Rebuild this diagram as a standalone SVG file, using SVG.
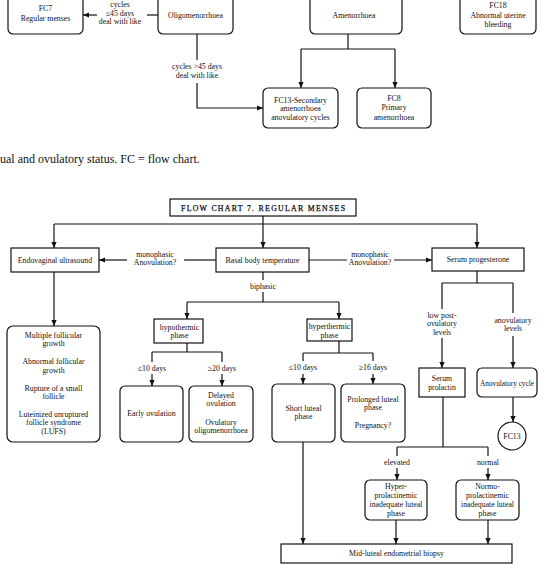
<svg xmlns="http://www.w3.org/2000/svg" width="553" height="564" viewBox="0 0 553 564">
<defs>
<style>
.b{fill:#fff;stroke:#111;stroke-width:1.2}
.t{font-family:"Liberation Serif","Times New Roman",serif;font-size:7.8px;fill:#111;text-anchor:middle}
.c{fill:none;stroke:#111;stroke-width:1.2}
.a{marker-end:url(#ah)}
</style>
<marker id="ah" markerUnits="userSpaceOnUse" markerWidth="6" markerHeight="6" viewBox="0 0 6 6" refX="6" refY="3" orient="auto">
<path d="M0,0.4 L6,3 L0,5.6 z" fill="#111"/>
</marker>
</defs>
<rect width="553" height="564" fill="#fff"/>

<g id="connectors">
<!-- top part -->
<path class="c" d="M158,15 H147"/>
<path class="c a" d="M97,15 H83"/>
<path class="c" d="M197,34 V60"/>
<path class="c a" d="M197,83 V108 H263"/>
<path class="c" d="M348,34 V49 M301,49 H395"/>
<path class="c a" d="M301,49 V88"/>
<path class="c a" d="M395,49 V88"/>
<!-- bottom part -->
<path class="c a" d="M263,216 V248"/>
<path class="c" d="M54,224 H477"/>
<path class="c a" d="M54,224 V248"/>
<path class="c a" d="M477,224 V248"/>
<path class="c" d="M216,260 H184"/>
<path class="c a" d="M127,260 H99"/>
<path class="c" d="M309,260 H347"/>
<path class="c a" d="M394,260 H432"/>
<path class="c" d="M263,272 V280 M263,292 V302 M187,302 H339"/>
<path class="c a" d="M187,302 V319"/>
<path class="c a" d="M339,302 V319"/>
<path class="c a" d="M54,272 V326"/>
<path class="c" d="M187,343 V352 M152,352 H222 M152,352 V362 M222,352 V362"/>
<path class="c a" d="M152,374 V386"/>
<path class="c a" d="M222,374 V386"/>
<path class="c" d="M339,341 V353 M303,353 H373 M303,353 V361 M373,353 V361"/>
<path class="c a" d="M303,374 V384"/>
<path class="c a" d="M373,374 V384"/>
<path class="c" d="M477,271 V283 M442,283 H513 M442,283 V309 M513,283 V313"/>
<path class="c a" d="M442,338 V368"/>
<path class="c a" d="M513,336 V368"/>
<path class="c a" d="M513,397 V422"/>
<path class="c" d="M443,397 V447 M397,447 H488 M397,447 V456 M488,447 V456"/>
<path class="c a" d="M397,468 V480"/>
<path class="c a" d="M488,468 V480"/>
<path class="c a" d="M303,442 V544"/>
<path class="c a" d="M396,520 V544"/>
<path class="c a" d="M488,520 V544"/>
<!-- connector labels -->
<text class="t" x="120" y="6.5">cycles</text>
<text class="t" x="120" y="16">≤45 days</text>
<text class="t" x="120" y="24">deal with like</text>
<text class="t" x="197" y="69">cycles &gt;45 days</text>
<text class="t" x="197" y="78">deal with like</text>
<text class="t" x="155" y="256.5">monophasic</text>
<text class="t" x="155" y="264.5">Anovulation?</text>
<text class="t" x="370" y="256.5">monophasic</text>
<text class="t" x="370" y="264.5">Anovulation?</text>
<text class="t" x="263" y="288.5">biphasic</text>
<text class="t" x="152" y="370.5">≤10 days</text>
<text class="t" x="222" y="370.5">≥20 days</text>
<text class="t" x="303" y="369.5">≤10 days</text>
<text class="t" x="373" y="369.5">≥16 days</text>
<text class="t" x="442" y="317.5">low post-</text>
<text class="t" x="442" y="326">ovulatory</text>
<text class="t" x="442" y="334.5">levels</text>
<text class="t" x="513" y="322.5">anovulatory</text>
<text class="t" x="513" y="331">levels</text>
<text class="t" x="397" y="465">elevated</text>
<text class="t" x="488" y="465">normal</text>
</g>

<g id="fc7">
<rect class="b" x="8" y="-12" width="75" height="46" rx="5"/>
<text class="t" x="45.5" y="11">FC7</text>
<text class="t" x="45.5" y="21">Regular menses</text>
</g>
<g id="oligomenorrhoea">
<rect class="b" x="158" y="-12" width="75" height="46" rx="5"/>
<text class="t" x="195.5" y="17.5">Oligomenorrhoea</text>
</g>
<g id="amenorrhoea">
<rect class="b" x="310" y="-12" width="92" height="46" rx="5"/>
<text class="t" x="354" y="17.5">Amenorrhoea</text>
</g>
<g id="fc18">
<rect class="b" x="460" y="-12" width="76" height="46" rx="5"/>
<text class="t" x="498" y="8">FC18</text>
<text class="t" x="498" y="18">Abnormal uterine</text>
<text class="t" x="498" y="27">bleeding</text>
</g>
<g id="fc13-secondary">
<rect class="b" x="263" y="88" width="75" height="40" rx="5"/>
<text class="t" x="300.5" y="102.5">FC13-Secondary</text>
<text class="t" x="300.5" y="111">amenorrhoea</text>
<text class="t" x="300.5" y="119.5">anovulatory cycles</text>
</g>
<g id="fc8">
<rect class="b" x="357" y="88" width="74" height="40" rx="5"/>
<text class="t" x="394" y="101">FC8</text>
<text class="t" x="394" y="110">Primary</text>
<text class="t" x="394" y="119.5">amenorrhoea</text>
</g>

<text x="0" y="163" font-family="'Liberation Serif','Times New Roman',serif" font-size="12" fill="#111">ual and ovulatory status. FC = flow chart.</text>

<g id="title">
<rect class="b" x="170" y="199" width="186" height="17"/>
<text class="t" x="263" y="211" font-size="9.5" textLength="164" lengthAdjust="spacing" stroke="#111" stroke-width="0.25">FLOW CHART 7. REGULAR MENSES</text>
</g>
<g id="endovaginal">
<rect class="b" x="11" y="248" width="88" height="24"/>
<text class="t" x="55" y="262.5">Endovaginal ultrasound</text>
</g>
<g id="basal">
<rect class="b" x="216" y="248" width="93" height="24"/>
<text class="t" x="262.5" y="262.5">Basal body temperature</text>
</g>
<g id="serum-progesterone">
<rect class="b" x="432" y="248" width="92" height="23"/>
<text class="t" x="478" y="262">Serum progesterone</text>
</g>
<g id="follicular">
<rect class="b" x="7" y="326" width="93" height="116" rx="6"/>
<text class="t" x="53.5" y="337.7">Multiple follicular</text>
<text class="t" x="53.5" y="346">growth</text>
<text class="t" x="53.5" y="364.4">Abnormal follicular</text>
<text class="t" x="53.5" y="373.4">growth</text>
<text class="t" x="53.5" y="391">Rupture of a small</text>
<text class="t" x="53.5" y="399.4">follicle</text>
<text class="t" x="53.5" y="417">Luteinized unruptured</text>
<text class="t" x="53.5" y="425.4">follicle syndrome</text>
<text class="t" x="53.5" y="433.7">(LUFS)</text>
</g>
<g id="hypothermic">
<rect class="b" x="154" y="319" width="49" height="24"/>
<text class="t" x="179.5" y="329.5">hypothermic</text>
<text class="t" x="179.5" y="338">phase</text>
</g>
<g id="hyperthermic">
<rect class="b" x="307" y="319" width="45" height="22"/>
<text class="t" x="329.5" y="329">hyperthermic</text>
<text class="t" x="329.5" y="337.5">phase</text>
</g>
<g id="early">
<rect class="b" x="120" y="386" width="63" height="56" rx="5"/>
<text class="t" x="151.5" y="415.5">Early ovulation</text>
</g>
<g id="delayed">
<rect class="b" x="189" y="386" width="64" height="56" rx="5"/>
<text class="t" x="221" y="397.5">Delayed</text>
<text class="t" x="221" y="406">ovulation</text>
<text class="t" x="221" y="424.5">Ovulatory</text>
<text class="t" x="221" y="433">oligomenorrhoea</text>
</g>
<g id="short">
<rect class="b" x="272" y="384" width="63" height="58" rx="5"/>
<text class="t" x="303.5" y="410.5">Short luteal</text>
<text class="t" x="303.5" y="419">phase</text>
</g>
<g id="prolonged">
<rect class="b" x="341" y="384" width="64" height="58" rx="5"/>
<text class="t" x="373" y="401.5">Prolonged luteal</text>
<text class="t" x="373" y="410">phase</text>
<text class="t" x="373" y="427.5">Pregnancy?</text>
</g>
<g id="serum-prolactin">
<rect class="b" x="419" y="368" width="46" height="29"/>
<text class="t" x="442" y="380.5">Serum</text>
<text class="t" x="442" y="389.5">prolactin</text>
</g>
<g id="anovulatory-cycle">
<rect class="b" x="477" y="368" width="60" height="29" rx="5"/>
<text class="t" x="507" y="386" textLength="54" lengthAdjust="spacingAndGlyphs">Anovulatory cycle</text>
</g>
<g id="fc13">
<circle class="b" cx="512" cy="436" r="14"/>
<text class="t" x="512" y="439">FC13</text>
</g>
<g id="hyperprolactinemic">
<rect class="b" x="365" y="480" width="62" height="40" rx="5"/>
<text class="t" x="396" y="488.5">Hyper-</text>
<text class="t" x="396" y="497.5">prolactinemic</text>
<text class="t" x="396" y="506.5">inadequate luteal</text>
<text class="t" x="396" y="515.5">phase</text>
</g>
<g id="normoprolactinemic">
<rect class="b" x="456" y="480" width="63" height="40" rx="5"/>
<text class="t" x="487.5" y="488.5">Normo-</text>
<text class="t" x="487.5" y="497.5">prolactinemic</text>
<text class="t" x="487.5" y="506.5">inadequate luteal</text>
<text class="t" x="487.5" y="515.5">phase</text>
</g>
<g id="biopsy">
<rect class="b" x="281" y="544" width="231" height="19"/>
<text class="t" x="396.5" y="556">Mid-luteal endometrial biopsy</text>
</g>
</svg>
